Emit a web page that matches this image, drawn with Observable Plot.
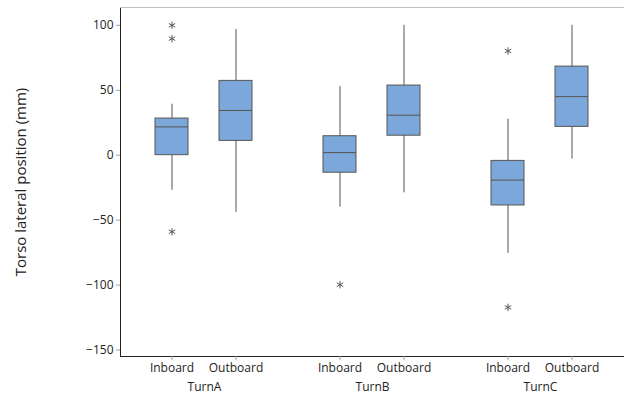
<!DOCTYPE html>
<html>
<head>
<meta charset="utf-8">
<script src="https://cdn.jsdelivr.net/npm/d3@7"></script>
<script src="https://cdn.jsdelivr.net/npm/@observablehq/plot@0.6"></script>
<style>
  html, body { margin: 0; padding: 0; background: #fff; }
  #chart svg { display: block; }
  g[aria-label="y-axis label"] text { font-size: 15px; }
</style>
</head>
<body>
<div id="chart"></div>
<script>
// Summary statistics
const turns   = ["TurnA", "TurnA", "TurnB", "TurnB", "TurnC", "TurnC"];
const sides   = ["Inboard", "Outboard", "Inboard", "Outboard", "Inboard", "Outboard"];
const whiskLo = [-27, -44, -40, -29, -75.5, -3];
const q1      = [0, 11, -13.5, 15, -38.7, 21.8];
const median  = [21.8, 34.4, 2, 30.8, -19.2, 45.1];
const q3      = [28.2, 57.2, 14.6, 53.6, -4.4, 68.2];
const whiskHi = [39.2, 96.7, 52.8, 100, 27.7, 100];

const outTurn  = ["TurnA", "TurnA", "TurnA", "TurnB", "TurnC", "TurnC"];
const outSide  = ["Inboard", "Inboard", "Inboard", "Inboard", "Inboard", "Inboard"];
const outValue = [100, 89.7, -59, -99.7, 80.2, -117.2];

const turnLabels = ["TurnA", "TurnB", "TurnC"];
const sideLabels = ["Inboard", "Outboard"];
const yTicks = [-150, -100, -50, 0, 50, 100];
const yDomain = [-155, 113.7];

const boxes = turns.map((t, i) => ({
  turn: t, side: sides[i], lo: whiskLo[i], q1: q1[i], med: median[i], q3: q3[i], hi: whiskHi[i]
}));
const outliers = outTurn.map((t, i) => ({turn: t, side: outSide[i], value: outValue[i]}));

const boxFill = "#7ba7da";
const dark = "#555555";

const chart = Plot.plot({
  width: 624,
  height: 394,
  marginLeft: 120,
  marginRight: 0,
  marginTop: 7,
  marginBottom: 38,
  style: {fontFamily: "'Open Sans', sans-serif", fontSize: "12px", color: "#222", background: "#fff"},
  fx: {domain: turnLabels, padding: 0, axis: "bottom", label: null, tickSize: 0, tickPadding: 26},
  x: {domain: sideLabels, paddingInner: 0.477, paddingOuter: 0.531, label: null, tickSize: 4, tickPadding: 3, line: true},
  y: {domain: yDomain, ticks: yTicks, tickSize: 4, tickPadding: 3, line: true,
      label: "Torso lateral position (mm)", labelAnchor: "center", labelArrow: "none", labelOffset: 105},
  marks: [
    Plot.ruleY([yDomain[1]], {stroke: "#bdbdbd", strokeWidth: 1.2}),
    Plot.ruleX(boxes, {fx: "turn", x: "side", y1: "lo", y2: "hi", stroke: dark, strokeWidth: 1}),
    Plot.barY(boxes, {fx: "turn", x: "side", y1: "q1", y2: "q3", fill: boxFill, stroke: dark, strokeWidth: 1}),
    Plot.tickY(boxes, {fx: "turn", x: "side", y: "med", stroke: dark, strokeWidth: 1}),
    Plot.dot(outliers, {fx: "turn", x: "side", y: "value", symbol: "asterisk", r: 3.5, stroke: dark, strokeWidth: 1})
  ]
});

// soften axis line / tick colours
chart.querySelectorAll('g[aria-label$="axis tick"] path, g[aria-label$="axis line"] line, g[aria-label$="axis line"] path').forEach(el => el.setAttribute("stroke", "#a0a0a0"));
document.getElementById("chart").appendChild(chart);
</script>
</body>
</html>
